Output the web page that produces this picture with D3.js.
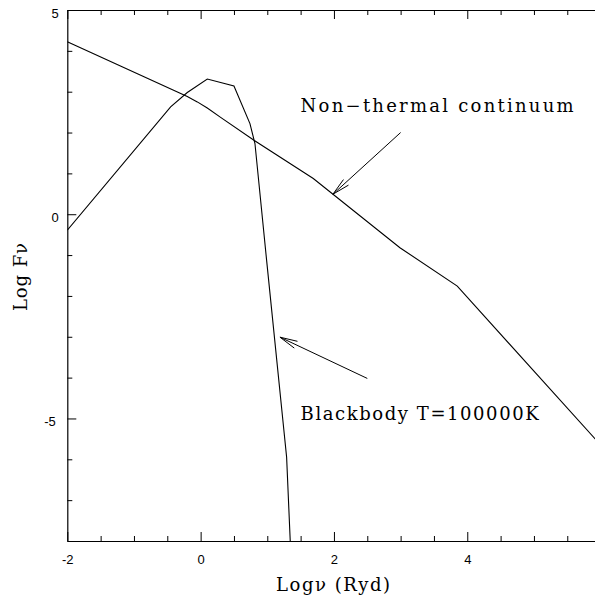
<!DOCTYPE html>
<html>
<head>
<meta charset="utf-8">
<script src="https://cdn.jsdelivr.net/npm/d3@7"></script>
<style>
  html, body { margin: 0; padding: 0; background: #fff; }
  svg { display: block; }
</style>
</head>
<body>
<svg id="chart" width="595" height="596"></svg>
<script>
// ---- data ----
const nonThermalX = [-2, -0.2, -0.05, 0.1, 0.3, 0.8, 1.69, 2.99, 3.85, 6];
const nonThermalY = [4.22, 2.88, 2.75, 2.6, 2.37, 1.81, 0.875, -0.82, -1.76, -5.65];
const blackbodyX = [-2, -0.45, -0.2, 0.1, 0.5, 0.74, 0.815, 0.99, 1.29, 1.36];
const blackbodyY = [-0.39, 2.63, 2.98, 3.31, 3.14, 2.22, 1.73, -1.13, -5.95, -8.6];
const xMajorTicks = [-2, 0, 2, 4];
const xMinorTicks = [-1.5, -1, -0.5, 0.5, 1, 1.5, 2.5, 3, 3.5, 4.5, 5, 5.5];
const yMajorTicks = [-5, 0, 5];
const yMinorTicks = [-8, -7, -6, -4, -3, -2, -1, 1, 2, 3, 4];
const labels = [
  { text: "Non\u2212thermal continuum", x: 1.5, y: 2.5, len: 273 },
  { text: "Blackbody T=100000K", x: 1.5, y: -5.03, len: 238 }
];
const arrows = [
  { x1: 3, y1: 2, x2: 1.985, y2: 0.49 },
  { x1: 2.5, y1: -4.02, x2: 1.19, y2: -3.01 }
];

// ---- layout ----
const svg = d3.select("#chart");
const x = d3.scaleLinear().domain([-2, 6]).range([67.3, 600.6]);
const y = d3.scaleLinear().domain([-8, 5]).range([541, 10]);

svg.append("defs").append("clipPath").attr("id", "clip")
  .append("rect").attr("x", 67.3).attr("y", 10).attr("width", 533.3).attr("height", 531);

const tickFont = "'Liberation Sans', Arial, sans-serif";
const serif = "'DejaVu Serif', serif";
const fmt = d => d < 0 ? "-" + Math.abs(d) : String(d);

function styleAxis(g) {
  g.selectAll("path.domain").attr("stroke", "#000").attr("stroke-width", 1.2);
  g.selectAll(".tick line").attr("stroke", "#000").attr("stroke-width", 1);
  g.selectAll("text").attr("font-family", tickFont).attr("font-size", 13).attr("fill", "#000");
}

// bottom axis
const gb = svg.append("g").attr("transform", `translate(0,${y(-8)})`);
gb.call(d3.axisBottom(x).tickValues(xMajorTicks).tickSizeInner(-9).tickSizeOuter(0).tickPadding(13.8).tickFormat(fmt));
gb.append("g").call(d3.axisBottom(x).tickValues(xMinorTicks).tickSizeInner(-5).tickSizeOuter(0).tickFormat(""))
  .select("path.domain").remove();
styleAxis(gb);

// top axis
const gt = svg.append("g").attr("transform", `translate(0,${y(5)})`);
gt.call(d3.axisTop(x).tickValues(xMajorTicks).tickSizeInner(-9).tickSizeOuter(0).tickFormat(""));
gt.append("g").call(d3.axisTop(x).tickValues(xMinorTicks).tickSizeInner(-5).tickSizeOuter(0).tickFormat(""))
  .select("path.domain").remove();
styleAxis(gt);

// left axis
const gl = svg.append("g").attr("transform", `translate(${x(-2)},0)`);
gl.call(d3.axisLeft(y).tickValues(yMajorTicks).tickSizeInner(-9).tickSizeOuter(0).tickPadding(8.5).tickFormat(fmt));
gl.append("g").call(d3.axisLeft(y).tickValues(yMinorTicks).tickSizeInner(-5).tickSizeOuter(0).tickFormat(""))
  .select("path.domain").remove();
styleAxis(gl);
gl.selectAll(".tick text").attr("dy", "0.55em").attr("dx", d => d < 0 ? -3 : 0);

// curves
const line = d3.line().x(d => x(d[0])).y(d => y(d[1]));
const plot = svg.append("g").attr("clip-path", "url(#clip)");
plot.append("path").datum(nonThermalX.map((v, i) => [v, nonThermalY[i]]))
  .attr("d", line).attr("fill", "none").attr("stroke", "#000").attr("stroke-width", 1.1);
plot.append("path").datum(blackbodyX.map((v, i) => [v, blackbodyY[i]]))
  .attr("d", line).attr("fill", "none").attr("stroke", "#000").attr("stroke-width", 1.1);

// arrows
arrows.forEach(a => {
  const X1 = x(a.x1), Y1 = y(a.y1), X2 = x(a.x2), Y2 = y(a.y2);
  plot.append("line").attr("x1", X1).attr("y1", Y1).attr("x2", X2).attr("y2", Y2)
    .attr("stroke", "#000").attr("stroke-width", 1);
  const ang = Math.atan2(Y1 - Y2, X1 - X2);
  const L = 18, h = 12 * Math.PI / 180;
  const p = d3.path();
  p.moveTo(X2 + L * Math.cos(ang + h), Y2 + L * Math.sin(ang + h));
  p.lineTo(X2, Y2);
  p.lineTo(X2 + L * Math.cos(ang - h), Y2 + L * Math.sin(ang - h));
  plot.append("path").attr("d", p.toString()).attr("fill", "none").attr("stroke", "#000").attr("stroke-width", 1);
});

// annotations
labels.forEach(l => {
  svg.append("text").attr("x", x(l.x)).attr("y", y(l.y))
    .attr("font-family", serif).attr("font-size", 18).attr("fill", "#000")
    .attr("textLength", l.len).attr("lengthAdjust", "spacing")
    .text(l.text);
});

// axis titles
svg.append("text").attr("x", 276).attr("y", 591)
  .attr("font-family", serif).attr("font-size", 18).attr("fill", "#000")
  .attr("textLength", 114).attr("lengthAdjust", "spacing")
  .text("Log\u03BD  (Ryd)");
svg.append("text").attr("transform", "translate(27,277) rotate(-90)")
  .attr("text-anchor", "middle")
  .attr("font-family", serif).attr("font-size", 18).attr("fill", "#000")
  .attr("textLength", 68).attr("lengthAdjust", "spacing")
  .text("Log F\u03BD");
</script>
</body>
</html>
